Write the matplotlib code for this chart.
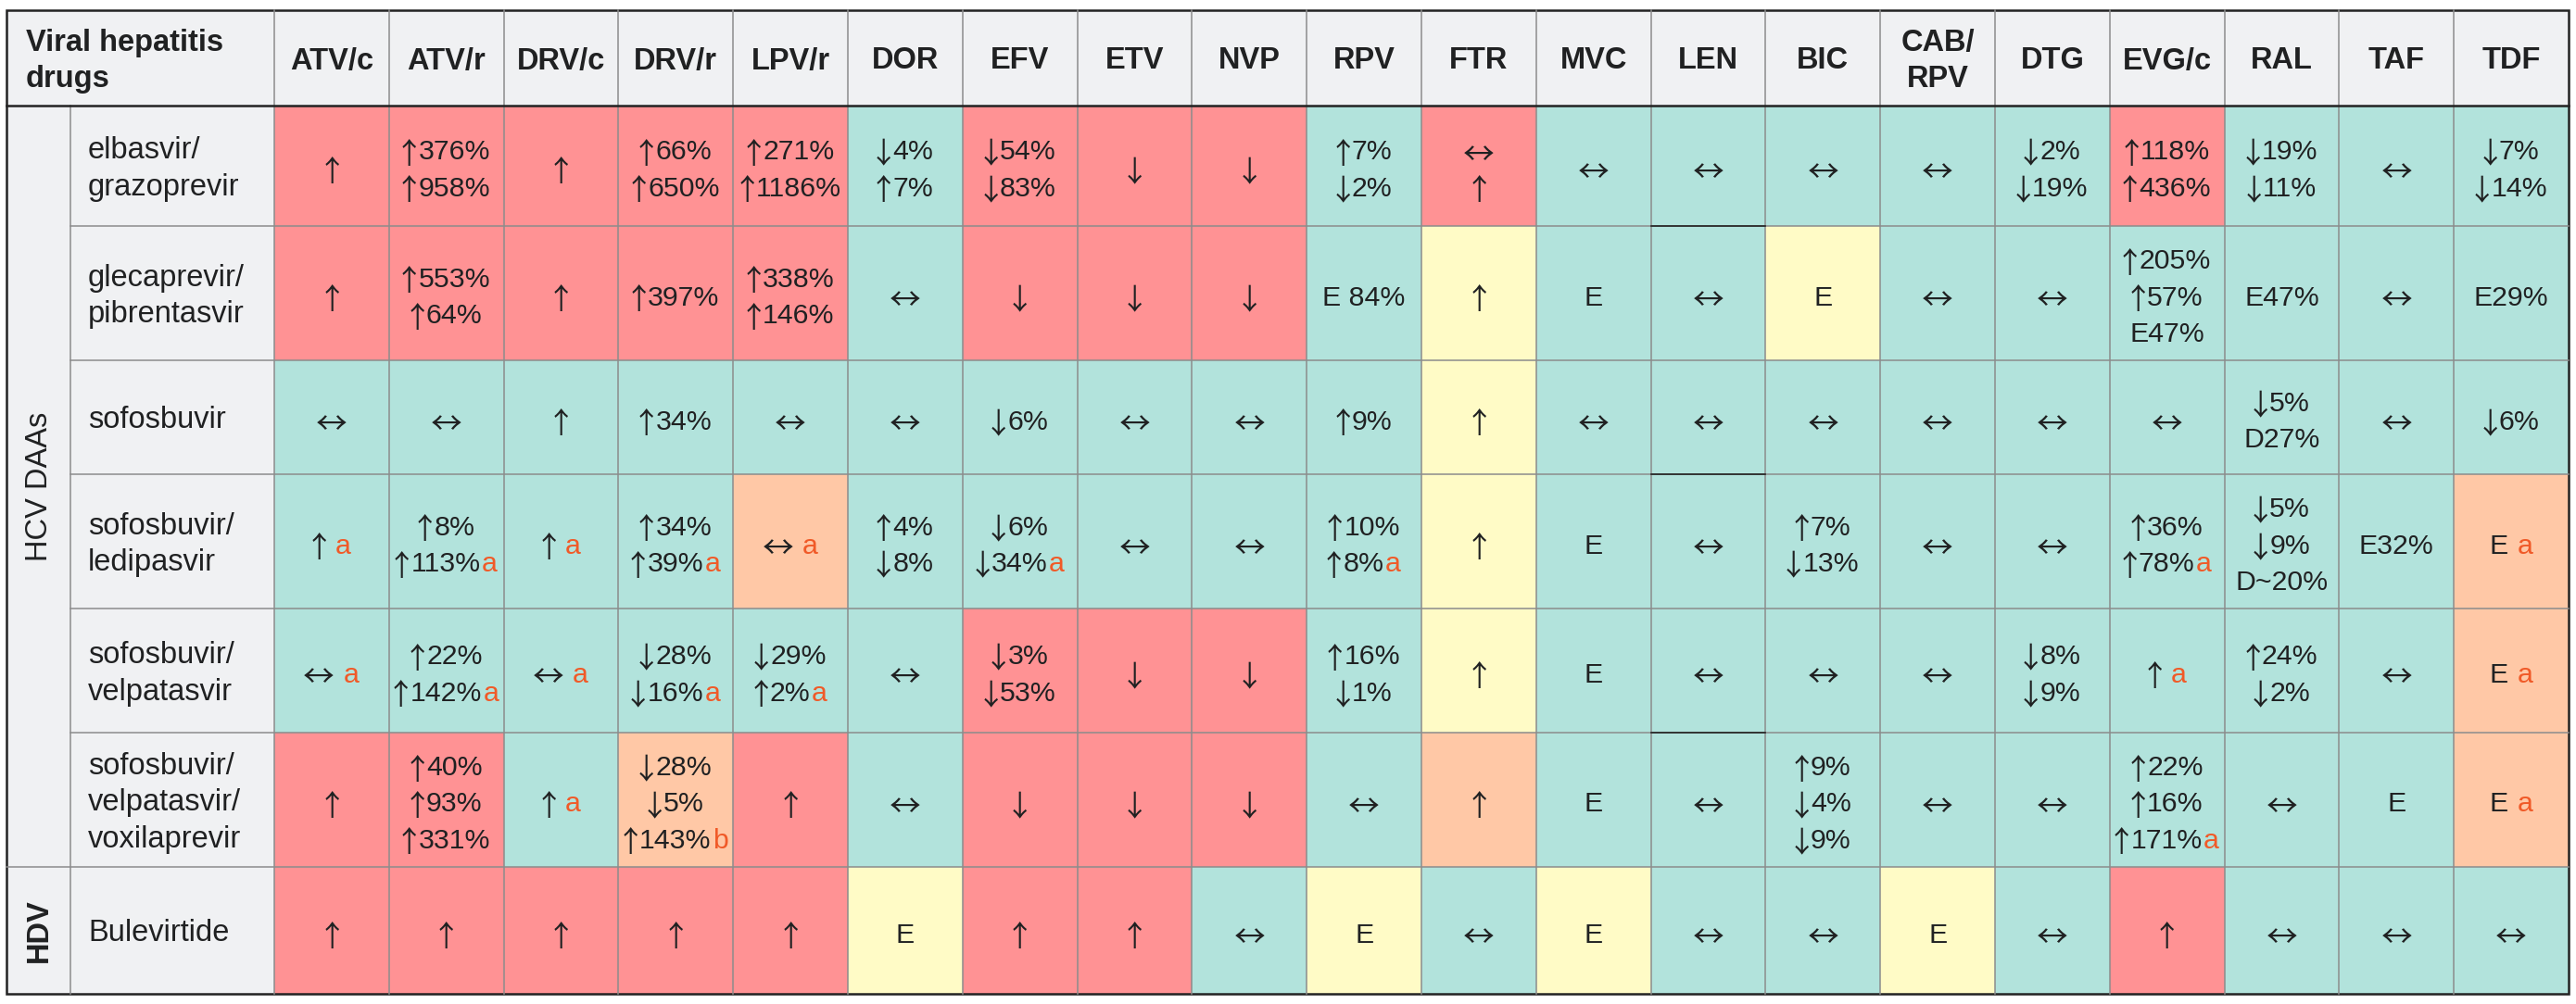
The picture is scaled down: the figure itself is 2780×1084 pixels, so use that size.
import matplotlib.pyplot as plt
from matplotlib.patches import Rectangle
from matplotlib.textpath import TextPath
from matplotlib.font_manager import FontProperties

plt.rcParams['font.family'] = ['Liberation Sans', 'DejaVu Sans']

hiv_drugs = ['ATV/c', 'ATV/r', 'DRV/c', 'DRV/r', 'LPV/r', 'DOR', 'EFV', 'ETV',
             'NVP', 'RPV', 'FTR', 'MVC', 'LEN', 'BIC', 'CAB/\nRPV', 'DTG',
             'EVG/c', 'RAL', 'TAF', 'TDF']
hep_drugs = ['elbasvir/\ngrazoprevir', 'glecaprevir/\npibrentasvir', 'sofosbuvir',
             'sofosbuvir/\nledipasvir', 'sofosbuvir/\nvelpatasvir',
             'sofosbuvir/\nvelpatasvir/\nvoxilaprevir', 'Bulevirtide']
groups = ['HCV DAAs', 'HDV']
group_sizes = [6, 1]
corner_label = 'Viral hepatitis\ndrugs'

# "^x" at the end of a line = footnote letter x
effects = [
    ['↑', '↑376%\n↑958%', '↑', '↑66%\n↑650%', '↑271%\n↑1186%', '↓4%\n↑7%',
     '↓54%\n↓83%', '↓', '↓', '↑7%\n↓2%', '↔\n↑', '↔', '↔', '↔', '↔',
     '↓2%\n↓19%', '↑118%\n↑436%', '↓19%\n↓11%', '↔', '↓7%\n↓14%'],
    ['↑', '↑553%\n↑64%', '↑', '↑397%', '↑338%\n↑146%', '↔', '↓', '↓', '↓',
     'E 84%', '↑', 'E', '↔', 'E', '↔', '↔', '↑205%\n↑57%\nE47%', 'E47%', '↔',
     'E29%'],
    ['↔', '↔', '↑', '↑34%', '↔', '↔', '↓6%', '↔', '↔', '↑9%', '↑', '↔', '↔',
     '↔', '↔', '↔', '↔', '↓5%\nD27%', '↔', '↓6%'],
    ['↑ ^a', '↑8%\n↑113%^a', '↑ ^a', '↑34%\n↑39%^a', '↔ ^a', '↑4%\n↓8%',
     '↓6%\n↓34%^a', '↔', '↔', '↑10%\n↑8%^a', '↑', 'E', '↔', '↑7%\n↓13%', '↔',
     '↔', '↑36%\n↑78%^a', '↓5%\n↓9%\nD~20%', 'E32%', 'E ^a'],
    ['↔ ^a', '↑22%\n↑142%^a', '↔ ^a', '↓28%\n↓16%^a', '↓29%\n↑2%^a', '↔',
     '↓3%\n↓53%', '↓', '↓', '↑16%\n↓1%', '↑', 'E', '↔', '↔', '↔', '↓8%\n↓9%',
     '↑ ^a', '↑24%\n↓2%', '↔', 'E ^a'],
    ['↑', '↑40%\n↑93%\n↑331%', '↑ ^a', '↓28%\n↓5%\n↑143%^b', '↑', '↔', '↓',
     '↓', '↓', '↔', '↑', 'E', '↔', '↑9%\n↓4%\n↓9%', '↔', '↔',
     '↑22%\n↑16%\n↑171%^a', '↔', 'E', 'E ^a'],
    ['↑', '↑', '↑', '↑', '↑', 'E', '↑', '↑', '↔', 'E', '↔', 'E', '↔', '↔', 'E',
     '↔', '↑', '↔', '↔', '↔'],
]
# R = do not coadminister, O = potential interaction, Y = weak, G = none expected
levels = [
    'RRRRRGRRRGRGGGGGRGGG',
    'RRRRRGRRRGYGGYGGGGGG',
    'GGGGGGGGGGYGGGGGGGGG',
    'GGGGOGGGGGYGGGGGGGGO',
    'GGGGGGRRRGYGGGGGGGGO',
    'RRGORGRRRGOGGGGGGGGO',
    'RRRRRYRRGYGYGGYGRGGG',
]

level_colors = {'R': '#ff9294', 'O': '#ffc8a6', 'Y': '#fffbc6', 'G': '#b2e3dc'}
head_bg = '#f0f1f3'
text_color = '#202122'
note_color = '#f05a28'
grid_color = '#8c8c8c'
frame_color = '#222222'

FS = 23.5        # labels and header
CELL_FS = 21.8   # cell contents
LINE_H = 39.2
BASE_OFF = 12
CELL_BASE_OFF = 13
ARROW_LIFT = 7.5
SPACE_GAP = 10.5
ARROW_GAP = 2.5
NOTE_GAP = 1.5

left, top = 7, 11
group_w, label_w, col_w = 69, 220, 123.8
header_h = 103
row_h = [130, 145, 123, 145, 134, 145, 137]

x_lab = left + group_w
x_dat = x_lab + label_w
xs = [x_dat + i * col_w for i in range(len(hiv_drugs) + 1)]
right = xs[-1]
ys = [top + header_h]
for h in row_h:
    ys.append(ys[-1] + h)
bottom = ys[-1]

# arrows: tall thin glyphs from the CJK font, scaled to the reference size
arrow_prop = FontProperties(family='Noto Sans CJK JP')
arrow_target = {'↑': ('h', 29), '↓': ('h', 29), '↔': ('w', 31.5)}
arrow_info = {}
for ch, (dim, size) in arrow_target.items():
    e = TextPath((0, 0), ch, size=100, prop=arrow_prop).get_extents()
    px = 100 * size / (e.height if dim == 'h' else e.width)
    e = TextPath((0, 0), ch, size=px, prop=arrow_prop).get_extents()
    # font size (pt), ink width, ink centre above baseline, left bearing
    arrow_info[ch] = (px * 72 / 100, e.width, (e.y0 + e.y1) / 2, e.x0)

fig = plt.figure(figsize=(27.8, 10.84), dpi=100)
ax = fig.add_axes([0, 0, 1, 1])
ax.set_xlim(0, 2780)
ax.set_ylim(1084, 0)
ax.axis('off')
renderer = fig.canvas.get_renderer()


def text_width(s, size):
    t = ax.text(0, 0, s, fontsize=size)
    w = t.get_window_extent(renderer).width
    t.remove()
    return w


def split_line(line):
    main, _, note = line.partition('^')
    pieces, buf = [], ''
    for ch in main:
        if ch in arrow_info:
            if buf:
                pieces.append(['t', buf])
                buf = ''
            pieces.append(['a', ch])
        else:
            buf += ch
    if buf:
        pieces.append(['t', buf])
    if note:
        pieces.append(['n', note])
    out = []
    space_next = False
    for kind, s in pieces:
        if kind == 't' and s.startswith(' '):
            space_next = True
        st = s.strip() if kind == 't' else s
        if st:
            if not out:
                gap = 0
            elif space_next:
                gap = SPACE_GAP
            elif out[-1][0] == 'a':
                gap = ARROW_GAP
            elif kind == 'n':
                gap = NOTE_GAP
            else:
                gap = 0
            out.append((kind, st, gap))
            space_next = False
        if kind == 't' and s.endswith(' '):
            space_next = True
    return out


def draw_cell_line(xc, yb, line):
    pieces = split_line(line)
    widths = []
    for kind, s, gap in pieces:
        if kind == 'a':
            widths.append(arrow_info[s][1])
        else:
            widths.append(text_width(s, CELL_FS))
    total = sum(widths) + sum(p[2] for p in pieces)
    x = xc - total / 2
    for (kind, s, gap), w in zip(pieces, widths):
        x += gap
        if kind == 'a':
            fs, _, c, lsb = arrow_info[s]
            ax.text(x - lsb, yb - ARROW_LIFT + c, s, fontsize=fs, ha='left',
                    va='baseline', color=text_color,
                    family=['Noto Sans CJK JP', 'DejaVu Sans'])
        else:
            ax.text(x, yb, s, fontsize=CELL_FS, ha='left', va='baseline',
                    color=note_color if kind == 'n' else text_color)
        x += w


def draw_lines(x, yc, text, ha='center', weight='normal', cell=False):
    lines = text.split('\n')
    n = len(lines)
    for i, line in enumerate(lines):
        off = CELL_BASE_OFF if cell else BASE_OFF
        yb = yc + off + (i - (n - 1) / 2) * LINE_H
        if cell:
            draw_cell_line(x, yb, line)
        else:
            ax.text(x, yb, line, fontsize=FS, ha=ha, va='baseline',
                    color=text_color, fontweight=weight)


# backgrounds
ax.add_patch(Rectangle((left, top), right - left, bottom - top,
                       facecolor=head_bg, edgecolor='none'))
for r, row in enumerate(levels):
    for c, code in enumerate(row):
        ax.add_patch(Rectangle((xs[c], ys[r]), col_w, row_h[r],
                               facecolor=level_colors[code], edgecolor='none'))

# grid lines
lw = 1.1
for x in xs[1:-1]:
    ax.plot([x, x], [top, bottom], color=grid_color, lw=lw)
ax.plot([x_dat, x_dat], [top, bottom], color=grid_color, lw=lw)
ax.plot([x_lab, x_lab], [ys[0], bottom], color=grid_color, lw=lw)
start = 0
for size in group_sizes:
    for k in range(start + 1, start + size):
        ax.plot([x_lab, right], [ys[k], ys[k]], color=grid_color, lw=lw)
    if start > 0:
        ax.plot([left, right], [ys[start], ys[start]], color=grid_color, lw=lw)
    start += size
# darker edges left in the LEN column
len_col = hiv_drugs.index('LEN')
for k in (1, 3, 5):
    ax.plot([xs[len_col], xs[len_col + 1]], [ys[k], ys[k]], color=frame_color, lw=1.2)
ax.plot([left, right], [ys[0], ys[0]], color=frame_color, lw=1.8)
ax.add_patch(Rectangle((left, top), right - left, bottom - top,
                       facecolor='none', edgecolor=frame_color, lw=1.8))

# header
draw_lines(left + 21, top + header_h / 2, corner_label, ha='left', weight='bold')
for c, name in enumerate(hiv_drugs):
    draw_lines(xs[c] + col_w / 2, top + header_h / 2, name, weight='bold')

# group labels
start = 0
for g, name in enumerate(groups):
    n = group_sizes[g]
    yc = (ys[start] + ys[start + n]) / 2
    ax.text(left + group_w / 2 + 1, yc, name, fontsize=FS, rotation=90,
            ha='center', va='center', color=text_color,
            fontweight='bold' if name == 'HDV' else 'normal')
    start += n

# row labels and cells
for r, name in enumerate(hep_drugs):
    yc = (ys[r] + ys[r + 1]) / 2
    draw_lines(x_lab + 19, yc, name, ha='left')
    for c, val in enumerate(effects[r]):
        draw_lines(xs[c] + col_w / 2, yc, val, cell=True)

fig.savefig('out.png', dpi=100, facecolor='white')
